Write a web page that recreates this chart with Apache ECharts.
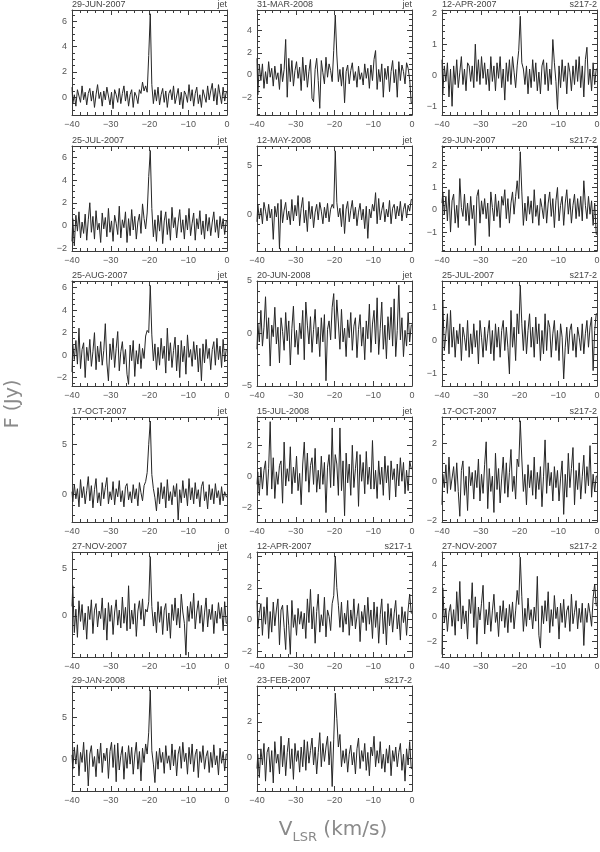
<!DOCTYPE html>
<html>
<head>
<meta charset="utf-8">
<script src="https://cdn.jsdelivr.net/npm/echarts@6/dist/echarts.min.js"></script>
<style>
html,body{margin:0;padding:0;background:#fff;}
#chart{width:600px;height:852px;}
</style>
</head>
<body>
<div id="chart"></div>
<script>
// ---- velocity channels (km/s) ----
const velocity = [-40,-39.6,-39.2,-38.8,-38.4,-38,-37.6,-37.2,-36.8,-36.4, -36,-35.6,-35.2,-34.8,-34.4,-34,-33.6,-33.2,-32.8,-32.4,
-32,-31.6,-31.2,-30.8,-30.4,-30,-29.6,-29.2,-28.8,-28.4, -28,-27.6,-27.2,-26.8,-26.4,-26,-25.6,-25.2,-24.8,-24.4,
-24,-23.6,-23.2,-22.8,-22.4,-22,-21.6,-21.2,-20.8,-20.4, -20,-19.6,-19.2,-18.8,-18.4,-18,-17.6,-17.2,-16.8,-16.4,
-16,-15.6,-15.2,-14.8,-14.4,-14,-13.6,-13.2,-12.8,-12.4, -12,-11.6,-11.2,-10.8,-10.4,-10,-9.6,-9.2,-8.8,-8.4,
-8,-7.6,-7.2,-6.8,-6.4,-6,-5.6,-5.2,-4.8,-4.4, -4,-3.6,-3.2,-2.8,-2.4,-2,-1.6,-1.2,-0.8,-0.4, 0];

// ---- flux density (Jy) per spectrum ----
const jet_29jun2007 = [0.8,-0.5,0.2,-0.7,0.6,0.1,-0.4,0.9,-0.2,0.4, -0.6,0.3,0.7,-0.3,0.5,-0.8,0.2,1.0,-0.1,0.4,
-0.7,0.5,-0.2,0.8,0.1,-0.6,0.4,-0.9,0.6,0.2, -0.4,0.7,-0.5,0.3,0.9,-0.3,0.5,-0.7,0.2,0.6,
-0.8,0.4,0.1,-0.5,0.6,0.3,1.2,0.5,0.9,0.4, 3.3,6.6,1.0,-0.5,0.6,-0.3,0.8,-0.6,0.2,0.7,
-0.4,0.5,-0.8,0.3,0.6,-0.2,0.9,-0.5,0.1,0.7, -0.6,0.4,-0.9,0.5,0.2,-0.4,1.0,-0.3,0.6,-0.7,
0.3,0.8,-0.5,0.2,-0.8,0.6,0.1,-0.4,0.9,-0.2, 0.5,1.1,-0.3,0.7,-0.6,1.0,0.2,-0.5,0.8,-0.3, 0.4];
const jet_25jul2007 = [-1.4,0.6,-1.8,0.9,-0.5,1.2,-1.1,0.3,-0.7,1.0, -1.3,0.5,2.0,-0.6,0.8,-1.2,1.3,-0.4,0.2,-1.5,
1.1,-0.3,0.7,-1.0,1.5,-0.6,0.4,-1.4,0.9,0.2, -0.8,1.7,-1.1,0.5,-0.2,1.2,-1.5,0.6,-0.9,1.4,
-0.4,0.8,-1.2,0.3,1.0,-0.7,1.9,0.6,-0.3,1.1, 4.3,6.6,1.5,-1.0,0.5,-1.4,0.9,-0.5,1.3,-1.6,
0.4,1.2,-0.8,0.6,-1.3,1.6,-0.2,0.7,-1.1,0.3, 1.4,-0.6,0.5,-1.2,0.9,-0.4,1.5,-0.9,0.2,1.1,
-1.3,0.6,-0.3,1.3,-0.8,0.4,-1.2,1.0,-0.5,0.7, -0.9,0.3,1.2,-0.6,0.5,-1.1,0.8,-0.3,0.6,-0.8, 0.4];
const jet_25aug2007 = [-1.5,0.9,-0.4,1.3,-0.8,2.4,-1.2,0.5,1.1,-2.0, 0.7,-0.5,1.4,-1.0,0.3,2.0,-1.3,0.8,-0.6,1.2,
-0.9,0.4,2.8,-0.7,-2.3,1.0,-0.4,1.5,-1.1,0.6, 2.1,-1.4,0.3,1.2,-0.8,0.5,-1.7,-2.6,0.9,-0.5,
1.3,-1.9,0.4,-0.8,1.0,-1.2,0.6,-0.3,1.7,2.2, 2.0,6.2,1.8,-0.5,1.0,-1.3,0.7,-0.9,1.5,-0.3,
0.8,-1.6,2.4,-0.5,1.1,-1.1,0.4,1.6,-1.4,0.9, -2.0,1.3,-0.6,0.8,-1.7,1.8,-0.2,0.5,-1.0,1.2,
-0.4,0.9,-1.5,0.6,-2.3,1.0,-0.7,1.4,-0.3,0.6, -1.3,0.5,1.2,-0.9,1.5,-0.4,0.8,-1.1,1.4,-0.6, 0.5];
const jet_17oct2007 = [0.3,-0.7,1.0,-0.4,0.6,-1.2,1.5,-0.3,0.8,-0.9, 0.4,1.8,-0.6,0.9,-1.3,0.5,1.6,-0.8,0.2,-1.1,
1.2,-0.4,0.7,1.7,-0.9,0.3,-0.5,1.3,-1.0,0.6, -0.2,1.4,-0.7,0.4,-1.2,0.8,1.1,-0.5,0.3,-0.8,
1.0,-0.4,0.6,-1.1,1.2,0.2,-0.6,0.9,1.3,2.2, 5.0,7.3,2.0,0.6,-0.3,-1.6,0.7,-0.9,1.2,-0.4,
0.8,-1.3,1.5,-0.6,0.3,-1.0,0.9,-0.2,1.1,-2.5, 0.5,-0.8,1.4,-0.3,0.6,-1.1,1.6,-0.5,0.7,-0.9,
1.2,-0.4,0.5,-1.2,0.8,1.3,-0.6,0.3,-1.4,1.0, -0.5,0.6,-0.9,1.1,-0.3,0.4,-1.0,0.8,-0.6,0.3, -0.2];
const jet_27nov2007 = [1.0,3.2,-1.8,0.7,-2.3,1.6,-0.6,1.2,-1.5,0.3, -2.5,1.0,-0.4,1.7,-1.9,0.6,1.3,-1.2,0.5,-0.3,
1.9,-1.5,0.8,-2.6,1.4,-0.6,1.1,-2.0,0.4,1.7, -1.0,0.6,-1.3,2.0,-0.8,0.9,-1.6,3.2,-1.4,0.6,
-0.9,1.3,-2.2,0.5,1.6,-0.4,1.8,-1.1,0.7,0.4, 1.5,6.3,1.0,-1.1,0.4,-1.8,1.5,-0.7,1.0,-2.0,
0.6,1.3,-1.6,0.3,-2.4,1.2,-0.5,1.9,-1.0,0.8, -1.3,2.3,0.4,-0.8,-4.2,1.0,-0.6,1.5,-0.3,2.4,
-1.4,0.4,1.6,-0.8,1.1,-1.7,0.3,1.9,-1.2,0.7, -0.4,1.2,-1.9,0.5,-0.8,1.4,-0.3,0.9,-1.6,1.5, -0.8];
const jet_29jan2008 = [0.5,-1.2,1.4,-0.6,1.7,-2.0,0.8,-0.4,2.0,-1.5, 1.1,-3.2,0.6,1.6,-0.9,0.3,-2.1,1.2,-0.5,1.9,
-1.6,0.7,-0.2,1.3,-2.3,0.9,2.0,-1.0,1.7,-2.7, 1.9,-1.3,0.4,1.5,-2.4,0.8,-1.1,1.6,-0.6,1.4,
-1.8,0.5,2.0,-1.2,0.9,-2.6,1.3,-0.4,1.8,0.6, 3.2,8.2,1.0,-0.6,-2.8,0.9,-1.2,1.3,-0.4,0.8,
-1.7,1.6,-0.5,0.4,-1.3,1.8,-0.8,1.1,-2.0,0.6, 1.5,-1.1,2.0,-0.3,0.7,-1.8,1.4,-0.6,1.8,-1.5,
0.5,1.2,-2.2,0.9,-0.4,1.6,-1.2,0.3,1.0,-1.6, 0.8,-1.0,1.7,-0.7,0.4,-1.9,1.3,-0.5,0.9,-1.4, 0.6];
const jet_31mar2008 = [1.5,-1.8,0.9,-0.5,1.0,-1.2,0.3,-0.8,1.2,-0.2, 0.6,-1.0,0.8,-0.4,0.2,-1.3,1.0,-0.6,0.5,3.2,
-2.0,1.5,-0.6,1.3,-1.0,0.4,1.2,-0.3,0.7,-1.4, 1.6,-0.5,0.9,-1.1,0.3,1.4,-2.1,-2.4,0.5,1.5,
-0.5,-3.0,1.3,0.2,-0.8,1.6,-0.2,1.0,0.4,-0.6, 2.2,5.4,1.8,-0.6,0.5,-1.0,0.7,-2.5,0.3,0.9,
-0.8,0.4,1.1,-0.5,0.3,-1.1,0.8,-0.4,0.2,-0.9, 1.0,-0.3,0.6,-1.2,0.9,-0.5,1.4,2.2,-1.3,0.5,
-0.6,1.0,-2.0,0.6,-0.4,0.8,-1.5,0.3,1.3,-0.7, 0.5,-2.0,1.2,-0.5,0.9,0.3,-0.8,1.1,0.6,-0.4, -2.5];
const jet_12may2008 = [-0.8,1.0,-0.5,0.6,-1.0,1.2,0.3,-0.7,1.0,-0.4, 0.5,-2.6,0.8,-0.3,1.1,-3.6,1.5,-0.9,0.4,1.2,
-0.6,0.3,-1.1,1.5,-0.7,0.9,-0.2,1.9,-1.2,0.6, 1.7,-0.9,0.4,-1.8,1.3,-0.5,0.8,-1.4,0.2,1.0,
-0.6,1.2,0.3,-1.0,0.7,-0.4,1.1,-0.8,0.5,1.0, 0.6,6.5,1.2,-0.3,0.6,-1.3,1.0,-2.0,0.5,1.3,
-0.8,0.4,1.4,-0.5,0.7,-1.2,0.2,1.1,-0.6,0.5, -1.5,0.8,-2.5,0.5,-0.4,1.0,0.3,2.2,-1.0,1.6,
-0.6,0.4,1.2,-0.8,0.5,-0.3,1.4,-1.0,0.6,1.0, -0.5,0.8,-0.2,1.3,-0.7,0.5,1.1,-0.4,0.9,0.3, 1.5];
const jet_20jun2008 = [-1.5,1.0,-0.8,2.2,-1.2,0.6,3.5,-0.5,1.5,-3.1, 0.8,-0.3,2.5,-1.0,0.6,-2.8,1.5,0.2,-1.6,2.0,
-0.7,1.2,-3.0,0.5,2.6,-1.3,0.3,-2.0,1.0,-0.5, 2.2,-2.5,3.0,0.8,-1.0,1.6,-1.8,0.4,2.3,-1.0,
0.6,-2.2,1.5,-0.8,1.8,-4.5,0.4,1.2,-0.6,2.5, 3.8,-0.5,3.2,1.0,-1.5,2.3,-0.8,0.5,-2.2,1.3,
-0.4,2.0,-1.6,0.7,1.5,-2.3,0.4,1.8,-1.2,0.6, -2.5,1.2,-0.5,2.8,-1.8,0.9,2.2,-1.0,3.4,-2.0,
0.5,3.0,-1.5,0.8,-2.4,1.6,-0.6,2.5,-1.2,3.3, -2.2,0.3,4.6,-0.6,1.5,-2.2,0.3,-1.2,2.0,-0.8, 0.8];
const jet_15jul2008 = [-0.5,0.3,-1.2,0.6,-0.8,0.4,1.0,-1.2,0.5,3.5, -0.8,1.2,-1.4,0.3,-0.5,0.7,1.0,-1.7,2.2,-0.6,
0.5,-0.3,1.9,-1.1,0.6,-0.4,1.3,-0.9,0.2,-1.8, 0.8,2.2,-0.3,1.5,-1.0,0.7,1.2,-0.5,1.8,-1.0,
0.4,-0.8,1.3,-0.5,0.9,-2.3,0.6,1.4,-0.7,3.1, -0.6,1.4,0.8,-1.2,3.1,-0.9,1.0,-2.5,1.5,-0.4,
0.8,-1.2,2.0,-0.7,0.5,1.6,-1.9,1.4,-0.3,0.9, -1.1,1.6,-0.5,0.6,-0.8,2.3,-0.8,0.4,-1.4,1.0,
-0.5,0.6,-1.2,1.3,-0.4,0.7,-1.5,1.0,-0.2,0.5, -1.3,0.8,-0.6,1.2,-0.3,0.9,-1.1,0.4,-0.9,1.0, 0.5];
const s2171_12apr2007 = [1.2,-0.6,0.4,1.0,-1.0,0.8,-0.3,1.4,-1.2,0.5, -0.8,1.1,-0.4,0.6,1.3,-1.6,0.6,0.9,-0.5,-1.9,
0.9,-0.4,-2.2,1.2,-0.5,0.3,-1.0,0.7,-0.3,0.5, -0.6,0.4,-1.2,1.3,-0.2,1.9,-0.6,0.8,-1.5,0.5,
1.6,-0.8,0.3,-0.4,1.4,-1.1,0.6,0.2,-0.7,1.0, 1.5,4.0,2.0,0.9,-0.5,1.1,-0.8,0.4,-0.3,1.2,
-1.0,0.6,-0.4,1.3,-0.6,0.2,1.0,-1.4,0.5,-0.2, 0.9,-0.7,1.4,-0.3,0.6,-1.2,1.1,-0.5,0.8,-1.5,
0.3,1.3,-0.9,0.5,-1.6,1.0,-0.4,0.7,-0.8,0.4, 1.2,-0.6,0.3,-1.3,0.8,-0.2,0.5,-1.0,0.6,1.6, 0.4];
const s2172_23feb2007 = [-0.6,0.2,-1.1,0.5,-0.4,0.8,-1.3,0.3,0.6,-0.8, 0.4,-1.4,0.9,-0.3,0.2,-0.9,1.2,-0.5,0.7,-1.0,
0.3,1.1,-0.6,0.5,-1.2,0.8,-0.2,0.4,-0.8,0.6, -0.5,1.0,-0.7,0.9,-0.3,0.4,1.1,-0.4,0.6,-0.9,
0.3,1.4,-0.5,0.8,-0.2,0.6,1.2,-0.4,0.9,-1.6, 1.0,3.6,2.2,0.6,1.3,-0.5,0.4,-0.3,0.5,-0.8,
0.2,0.7,-0.4,0.3,-0.9,0.5,1.1,-0.6,0.4,-0.2, 0.8,-0.7,0.3,-1.0,0.6,0.1,1.2,-0.5,0.4,-0.3,
0.9,-0.6,0.2,-0.8,0.5,-0.3,0.7,-1.0,0.4,-0.2, 0.6,-0.5,0.3,0.8,-0.7,0.2,-1.3,0.5,-0.4,0.9, -0.6];
const s2172_12apr2007 = [0.5,-0.6,0.3,-0.2,0.4,-0.7,0.2,-1.0,0.3,-0.3, 0.5,-0.4,0.1,0.6,-0.3,0.2,-0.5,0.4,0.3,-0.2,
0.3,-0.4,1.0,-0.2,0.5,-0.3,0.6,-0.1,0.4,-0.3, 0.2,-0.5,0.6,-0.2,0.3,-0.5,0.4,-0.1,0.6,-0.4,
0.2,-0.8,0.4,-0.2,0.5,-0.3,0.6,0.1,-0.4,0.3, 0.8,1.9,0.4,0.2,-0.3,0.3,-0.6,0.2,-0.4,0.5,
-0.2,0.4,-0.5,0.1,-0.6,0.3,0.5,-0.3,0.4,-0.5, 0.2,-0.3,1.15,0.4,-0.2,-1.1,0.3,-0.4,0.5,-0.2,
0.3,-0.6,0.4,0.1,-0.5,0.3,-0.3,0.5,-0.2,0.6, -0.4,0.3,-0.7,0.5,0.9,-0.3,0.2,-0.5,0.4,-0.3, 0.2];
const s2172_29jun2007 = [0.3,0.8,-0.2,0.6,-0.5,0.9,-1.0,0.4,0.7,-0.6, 0.2,-0.8,1.4,0.1,-0.3,0.7,-0.5,0.3,-0.7,0.6,
-0.4,0.2,-1.6,0.6,0.9,-0.6,0.4,-0.2,0.5,-0.4, 0.3,-1.2,0.8,0.1,-0.5,0.7,-0.3,0.4,-0.8,0.6,
0.2,0.9,-0.4,0.5,-0.6,0.3,0.8,-0.2,0.6,1.3, 0.5,2.6,0.8,-0.7,0.3,-0.5,0.6,-0.2,0.4,-0.6,
0.9,-0.3,0.2,-0.7,0.5,0.1,-0.4,0.7,-0.6,0.3, 0.8,-0.3,0.5,-0.8,0.4,1.0,-0.5,0.2,0.6,-0.7,
0.3,0.9,-0.2,0.5,-0.6,0.2,0.7,-0.4,0.5,-0.3, 0.6,-0.5,1.3,0.2,-0.4,0.6,-0.2,0.4,-0.7,0.3, -1.1];
const s2172_25jul2007 = [-0.6,1.2,-0.3,0.2,0.8,-0.4,0.9,-0.2,0.4,-0.5, 0.3,-0.1,0.5,-0.6,0.4,0.1,-0.3,0.6,-0.5,0.2,
-0.4,0.5,-0.2,0.3,-0.7,0.6,0.1,-0.5,0.4,-0.3, 0.2,0.6,-0.4,0.3,-0.6,0.5,-0.2,0.4,-0.5,0.3,
0.6,-0.3,0.4,-0.2,-1.0,0.9,-0.2,0.4,-0.6,0.8, 0.2,1.65,0.5,-0.3,0.6,-0.4,0.3,0.8,-0.2,0.4,
-0.5,0.7,-0.1,0.5,-0.6,0.3,-0.4,0.8,-0.3,0.6, 0.4,-0.5,0.2,0.6,-0.3,0.3,-0.6,0.5,0.1,-1.15,
-0.2,0.4,-0.4,0.3,0.5,-0.3,0.2,-0.5,0.4,0.1, -0.3,0.5,-0.4,0.2,0.6,-0.2,0.4,0.7,-0.9,0.3, 0.8];
const s2172_17oct2007 = [-1.2,0.4,-0.3,0.9,-0.6,1.3,-0.4,0.2,0.8,-0.5, 1.0,-0.5,-1.8,0.6,1.1,-0.7,0.3,-1.5,0.8,-0.2,
0.5,-0.9,0.6,-0.3,1.2,-1.0,0.4,-0.6,0.9,2.1, -1.4,0.7,-0.5,0.3,-1.6,1.5,-0.4,0.7,-1.1,0.2,
1.3,-0.6,1.0,-0.8,0.5,1.7,-0.5,0.3,-0.9,1.2, 0.8,3.2,1.2,-0.5,0.4,-1.2,0.9,-0.3,0.6,-0.7,
1.3,-0.9,0.5,-0.4,0.8,-1.3,0.3,2.2,-0.6,1.0, -0.2,0.5,-1.0,0.8,-0.3,0.6,-1.0,0.2,1.1,-1.7,
0.4,-0.8,1.5,-0.3,0.7,1.8,-1.2,0.6,-0.4,1.0, -0.9,0.3,1.4,-0.6,0.8,-0.2,1.9,-0.8,0.4,-0.5, 0.3];
const s2172_27nov2007 = [-3.0,2.2,-0.5,0.6,-1.2,0.3,0.9,-0.8,0.5,-1.5, 1.9,-0.4,2.7,-1.0,0.8,-0.6,0.4,-1.8,1.3,0.2,
2.6,-0.9,1.5,-2.2,0.7,-0.3,1.0,2.4,-1.4,0.5, -0.7,1.1,-1.2,0.4,1.7,-0.5,0.3,-1.6,0.8,-0.4,
1.2,-0.9,0.6,-1.3,0.9,-0.5,1.1,-1.0,0.4,2.0, 0.9,4.6,1.5,-1.2,0.6,-0.8,1.4,-0.3,0.5,-1.0,
0.7,-0.4,3.1,-1.5,-2.5,0.8,-0.6,1.2,-0.4,1.9, -1.3,0.5,-0.8,1.6,-0.2,0.7,-1.8,1.0,-0.5,1.3,
-0.9,0.4,0.8,-1.2,1.7,-0.6,0.3,1.2,-1.0,0.6, -0.5,1.0,-2.3,0.6,-0.5,1.0,0.2,-0.8,1.4,2.5, 0.8];

// ---- x-axis tick labels ----
const xTickValues = [-40,-30,-20,-10,0];

// ---- y-axis tick labels ----
const yTicks_p1 = [0,2,4,6];
const yTicks_p2 = [-2,0,2,4,6];
const yTicks_p3 = [-2,0,2,4,6];
const yTicks_p4 = [0,5];
const yTicks_p5 = [0,5];
const yTicks_p6 = [0,5];
const yTicks_p7 = [-2,0,2,4];
const yTicks_p8 = [0,5];
const yTicks_p9 = [-5,0,5];
const yTicks_p10 = [-2,0,2];
const yTicks_p11 = [-2,0,2,4];
const yTicks_p12 = [0,2];
const yTicks_p13 = [-1,0,1,2];
const yTicks_p14 = [-1,0,1,2];
const yTicks_p15 = [-1,0,1];
const yTicks_p16 = [-2,0,2];
const yTicks_p17 = [-2,0,2,4];

// ---- panels (column, row, labels, data, y range) ----
const panels = [
  {col:0,row:0,date:'29-JUN-2007',src:'jet',flux:jet_29jun2007,yMin:-1.4,yMax:6.9,ticks:yTicks_p1,minor:0.5},
  {col:0,row:1,date:'25-JUL-2007',src:'jet',flux:jet_25jul2007,yMin:-2.25,yMax:7.0,ticks:yTicks_p2,minor:0.5},
  {col:0,row:2,date:'25-AUG-2007',src:'jet',flux:jet_25aug2007,yMin:-2.75,yMax:6.6,ticks:yTicks_p3,minor:0.5},
  {col:0,row:3,date:'17-OCT-2007',src:'jet',flux:jet_17oct2007,yMin:-2.7,yMax:7.7,ticks:yTicks_p4,minor:1},
  {col:0,row:4,date:'27-NOV-2007',src:'jet',flux:jet_27nov2007,yMin:-4.4,yMax:6.8,ticks:yTicks_p5,minor:1},
  {col:0,row:5,date:'29-JAN-2008',src:'jet',flux:jet_29jan2008,yMin:-3.8,yMax:8.7,ticks:yTicks_p6,minor:1},
  {col:1,row:0,date:'31-MAR-2008',src:'jet',flux:jet_31mar2008,yMin:-3.6,yMax:5.85,ticks:yTicks_p7,minor:0.5},
  {col:1,row:1,date:'12-MAY-2008',src:'jet',flux:jet_12may2008,yMin:-3.8,yMax:7.0,ticks:yTicks_p8,minor:1},
  {col:1,row:2,date:'20-JUN-2008',src:'jet',flux:jet_20jun2008,yMin:-5,yMax:5,ticks:yTicks_p9,minor:1},
  {col:1,row:3,date:'15-JUL-2008',src:'jet',flux:jet_15jul2008,yMin:-2.9,yMax:3.8,ticks:yTicks_p10,minor:0.5},
  {col:1,row:4,date:'12-APR-2007',src:'s217-1',flux:s2171_12apr2007,yMin:-2.37,yMax:4.26,ticks:yTicks_p11,minor:0.5},
  {col:1,row:5,date:'23-FEB-2007',src:'s217-2',flux:s2172_23feb2007,yMin:-1.85,yMax:4.0,ticks:yTicks_p12,minor:0.5},
  {col:2,row:0,date:'12-APR-2007',src:'s217-2',flux:s2172_12apr2007,yMin:-1.28,yMax:2.1,ticks:yTicks_p13,minor:0.2},
  {col:2,row:1,date:'29-JUN-2007',src:'s217-2',flux:s2172_29jun2007,yMin:-1.85,yMax:2.86,ticks:yTicks_p14,minor:0.2},
  {col:2,row:2,date:'25-JUL-2007',src:'s217-2',flux:s2172_25jul2007,yMin:-1.36,yMax:1.78,ticks:yTicks_p15,minor:0.2},
  {col:2,row:3,date:'17-OCT-2007',src:'s217-2',flux:s2172_17oct2007,yMin:-2.1,yMax:3.4,ticks:yTicks_p16,minor:0.5},
  {col:2,row:4,date:'27-NOV-2007',src:'s217-2',flux:s2172_27nov2007,yMin:-3.2,yMax:5.0,ticks:yTicks_p17,minor:0.5}
];

// ---- layout ----
const colLeft = [72, 257, 442];
const rowTop = [10, 146, 281, 417, 552, 686];
const panelW = 155, panelH = 105;
const FONT = 'Liberation Sans';
const axisColor = '#3c3c3c';
const labelColor = '#555';
const minus = v => String(v).replace('-', '\u2212');

function minorValues(p) {
  const out = [];
  const k0 = Math.ceil(p.yMin / p.minor - 1e-9), k1 = Math.floor(p.yMax / p.minor + 1e-9);
  for (let k = k0; k <= k1; k++) {
    const v = Math.round(k * p.minor * 1000) / 1000;
    if (p.ticks.indexOf(v) < 0) out.push(v);
  }
  return out;
}

const grid = [], xAxis = [], yAxis = [], series = [], title = [];
panels.forEach((p, g) => {
  const left = colLeft[p.col], top = rowTop[p.row];
  grid.push({left: left, top: top, width: panelW, height: panelH, containLabel: false, outerBoundsMode: 'none'});
  const xCommon = {
    type: 'value', gridIndex: g, min: -40, max: 0, interval: 10,
    axisLine: {show: true, onZero: false, lineStyle: {color: axisColor, width: 1}},
    axisTick: {show: true, inside: true, length: 5, lineStyle: {color: axisColor}},
    minorTick: {show: true, splitNumber: 5, length: 3, lineStyle: {color: axisColor}},
    splitLine: {show: false}
  };
  xAxis.push(Object.assign({}, xCommon, {position: 'bottom',
    axisLabel: {show: true, customValues: xTickValues, formatter: minus, fontSize: 9, fontFamily: FONT, color: labelColor, margin: 5}}));
  xAxis.push(Object.assign({}, xCommon, {position: 'top', axisLabel: {show: false}}));

  const yMain = {
    type: 'value', gridIndex: g, min: p.yMin, max: p.yMax,
    axisLine: {show: true, onZero: false, lineStyle: {color: axisColor, width: 1}},
    axisTick: {show: true, inside: true, length: 5, customValues: p.ticks, lineStyle: {color: axisColor}},
    splitLine: {show: false}
  };
  yAxis.push(Object.assign({}, yMain, {position: 'left',
    axisLabel: {show: true, customValues: p.ticks, formatter: minus, fontSize: 9, fontFamily: FONT, color: labelColor, margin: 5}}));
  yAxis.push(Object.assign({}, yMain, {position: 'right', axisLabel: {show: false}}));
  const mv = minorValues(p);
  const yMinor = {
    type: 'value', gridIndex: g, min: p.yMin, max: p.yMax,
    axisLine: {show: false, onZero: false},
    axisTick: {show: true, inside: true, length: 3, customValues: mv, lineStyle: {color: axisColor}},
    axisLabel: {show: false}, splitLine: {show: false}
  };
  yAxis.push(Object.assign({}, yMinor, {position: 'left'}));
  yAxis.push(Object.assign({}, yMinor, {position: 'right'}));

  series.push({
    type: 'line', xAxisIndex: 2 * g, yAxisIndex: 4 * g,
    data: velocity.map((v, i) => [v, p.flux[i]]),
    step: 'middle', symbol: 'none', silent: true, animation: false,
    lineStyle: {color: '#262626', width: 1}
  });

  title.push({text: p.date, left: left, top: top - 10, padding: 0,
    textStyle: {fontSize: 9, lineHeight: 9, fontWeight: 'normal', fontFamily: FONT, color: '#444'}});
  title.push({text: p.src, right: 600 - (left + panelW), top: top - 10, padding: 0,
    textStyle: {fontSize: 9, lineHeight: 9, fontWeight: 'normal', fontFamily: FONT, color: '#444'}});
});

const chart = echarts.init(document.getElementById('chart'), null, {renderer: 'canvas'});
chart.setOption({
  backgroundColor: '#fff',
  animation: false,
  title: title,
  grid: grid,
  xAxis: xAxis,
  yAxis: yAxis,
  series: series,
  graphic: [
    {type: 'text', x: 13, y: 404, rotation: Math.PI / 2, silent: true,
     style: {text: 'F (Jy)', fontSize: 19, fontFamily: 'DejaVu Sans', fill: '#8a8a8a', align: 'center', verticalAlign: 'middle'}},
    {type: 'text', x: 333, y: 840, silent: true,
     style: {text: '{v|V}{s|LSR}{v| (km/s)}', fontFamily: 'DejaVu Sans', fill: '#8a8a8a', align: 'center', verticalAlign: 'bottom',
       rich: {v: {fontSize: 20, fontFamily: 'DejaVu Sans', fill: '#8a8a8a', verticalAlign: 'bottom', lineHeight: 23},
              s: {fontSize: 13, fontFamily: 'DejaVu Sans', fill: '#8a8a8a', verticalAlign: 'bottom', lineHeight: 17, padding: [0,0,-4,0]}}}}
  ]
});
</script>
</body>
</html>
